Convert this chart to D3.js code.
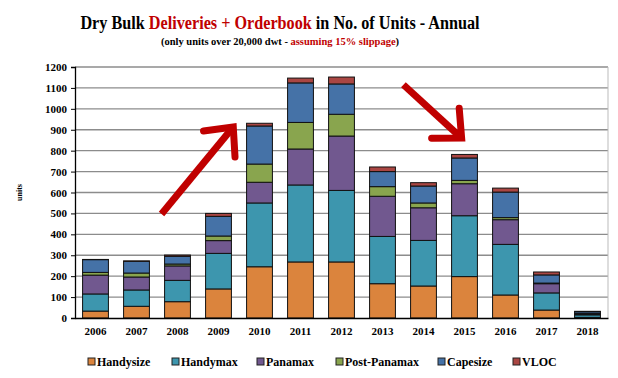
<!DOCTYPE html>
<html>
<head>
<meta charset="utf-8">
<script src="https://cdn.jsdelivr.net/npm/d3@7"></script>
<style>
  body { margin: 0; background: #fff; }
  text { font-family: "Liberation Serif", "Times New Roman", serif; font-weight: bold; }
</style>
</head>
<body>
<div id="chart"></div>
<script>
const width = 618;
const height = 378;
const margin = { top: 67, right: 10, bottom: 60, left: 75 };

const years = ["2006", "2007", "2008", "2009", "2010", "2011", "2012", "2013", "2014", "2015", "2016", "2017", "2018"];
const seriesNames = ["Handysize", "Handymax", "Panamax", "Post-Panamax", "Capesize", "VLOC"];
const seriesColors = ["#DB843D", "#3D96AE", "#71588F", "#89A54E", "#4572A7", "#AA4643"];

const handysize = [33, 56, 78, 139, 245, 268, 268, 164, 153, 198, 110, 38, 3];
const handymax = [82, 78, 102, 170, 305, 368, 342, 226, 218, 291, 242, 82, 12];
const panamax = [90, 62, 69, 61, 99, 172, 260, 192, 156, 153, 118, 44, 5];
const postPanamax = [13, 19, 9, 22, 87, 127, 104, 46, 23, 16, 10, 3, 2];
const capesize = [61, 56, 37, 94, 182, 189, 145, 72, 81, 107, 122, 39, 8];
const vloc = [1, 2, 6, 14, 13, 23, 33, 22, 16, 17, 19, 14, 2];

const yTicks = d3.range(0, 1201, 100);

// arrows as [index position, value] pairs
const arrowUp = [[1.61, 497], [3.36, 913]];
const arrowDown = [[7.51, 1115], [8.93, 860]];

const rows = years.map((y, i) => ({
    year: y,
    Handysize: handysize[i],
    Handymax: handymax[i],
    Panamax: panamax[i],
    "Post-Panamax": postPanamax[i],
    Capesize: capesize[i],
    VLOC: vloc[i],
}));

const svg = d3.select("#chart").append("svg")
    .attr("width", width)
    .attr("height", height);

const x = d3.scaleBand()
    .domain(years)
    .range([margin.left, width - margin.right])
    .paddingInner(0.37)
    .paddingOuter(0.185);

const y = d3.scaleLinear()
    .domain([0, 1200])
    .range([height - margin.bottom, margin.top]);

const color = d3.scaleOrdinal().domain(seriesNames).range(seriesColors);

// title (slightly condensed, like the original)
const title = svg.append("text")
    .attr("transform", "translate(280,29) scale(0.853,1)")
    .attr("text-anchor", "middle")
    .style("font-size", "19px");
title.append("tspan").text("Dry Bulk ");
title.append("tspan").attr("fill", "#C00000").text("Deliveries + Orderbook");
title.append("tspan").text(" in No. of Units - Annual");

const sub = svg.append("text")
    .attr("x", 280)
    .attr("y", 45)
    .attr("text-anchor", "middle")
    .style("font-size", "10.5px");
sub.append("tspan").text("(only units over 20,000 dwt -  ");
sub.append("tspan").attr("fill", "#C00000").text("assuming 15% slippage");
sub.append("tspan").text(")");

// gridlines
svg.append("g")
    .selectAll("line")
    .data(yTicks.filter((d) => d > 0))
    .join("line")
    .attr("x1", margin.left)
    .attr("x2", width - margin.right)
    .attr("y1", (d) => y(d))
    .attr("y2", (d) => y(d))
    .attr("stroke", "#8c8c8c")
    .attr("stroke-width", 1.3);

// right frame
svg.append("line")
    .attr("x1", width - margin.right)
    .attr("x2", width - margin.right)
    .attr("y1", y(1200))
    .attr("y2", y(0))
    .attr("stroke", "#bbbbbb")
    .attr("stroke-width", 1);

// bars
const stacked = d3.stack().keys(seriesNames)(rows);

svg.append("g")
    .selectAll("g")
    .data(stacked)
    .join("g")
    .attr("fill", (d) => color(d.key))
    .selectAll("rect")
    .data((d) => d)
    .join("rect")
    .attr("x", (d) => x(d.data.year))
    .attr("y", (d) => y(d[1]))
    .attr("width", x.bandwidth())
    .attr("height", (d) => y(d[0]) - y(d[1]))
    .attr("stroke", "#111")
    .attr("stroke-width", 1);

// y axis
const yAxis = svg.append("g")
    .attr("transform", `translate(${margin.left},0)`)
    .call(d3.axisLeft(y).tickValues(yTicks).tickFormat(d3.format("d")).tickSize(4).tickPadding(4));
yAxis.select(".domain").attr("stroke", "#000").attr("stroke-width", 1.3);
yAxis.selectAll(".tick line").attr("stroke", "#000");
yAxis.selectAll("text").style("font-size", "11px").attr("fill", "#000");

// x axis
const xAxis = svg.append("g")
    .attr("transform", `translate(0,${y(0)})`)
    .call(d3.axisBottom(x).tickSize(0).tickPadding(9));
xAxis.select(".domain").attr("stroke", "#000").attr("stroke-width", 1.3);
xAxis.selectAll("text").style("font-size", "11px").attr("fill", "#000");

// y axis title
svg.append("text")
    .attr("transform", `translate(22,${y(600)}) rotate(-90)`)
    .attr("text-anchor", "middle")
    .style("font-size", "8px")
    .text("units");

// arrows
const xi = d3.scaleLinear()
    .domain([0, years.length - 1])
    .range([x(years[0]) + x.bandwidth() / 2, x(years[years.length - 1]) + x.bandwidth() / 2]);

function drawArrow(pts) {
    const [x0, y0] = [xi(pts[0][0]), y(pts[0][1])];
    const [x1, y1] = [xi(pts[1][0]), y(pts[1][1])];
    const ang = Math.atan2(y1 - y0, x1 - x0);
    const len = 30;
    const spread = Math.PI / 4.2;
    const w1 = [x1 - len * Math.cos(ang - spread), y1 - len * Math.sin(ang - spread)];
    const w2 = [x1 - len * Math.cos(ang + spread), y1 - len * Math.sin(ang + spread)];
    const g = svg.append("g")
        .attr("fill", "none")
        .attr("stroke", "#C00000")
        .attr("stroke-width", 7);
    g.append("line")
        .attr("x1", x0).attr("y1", y0)
        .attr("x2", x1 - 3 * Math.cos(ang)).attr("y2", y1 - 3 * Math.sin(ang));
    g.append("path")
        .attr("d", `M${w1[0]},${w1[1]}L${x1},${y1}L${w2[0]},${w2[1]}`)
        .attr("stroke-linejoin", "miter")
        .attr("stroke-linecap", "round");
}
drawArrow(arrowUp);
drawArrow(arrowDown);

// legend
const legendX = [88, 172, 257, 336, 438, 513];
const legend = svg.append("g")
    .selectAll("g")
    .data(seriesNames)
    .join("g")
    .attr("transform", (d, i) => `translate(${legendX[i]},362)`);
legend.append("rect")
    .attr("x", 0)
    .attr("y", -4)
    .attr("width", 7)
    .attr("height", 7)
    .attr("fill", (d) => color(d))
    .attr("stroke", "#222")
    .attr("stroke-width", 1);
legend.append("text")
    .attr("x", 9)
    .attr("y", 4)
    .style("font-size", "12px")
    .text((d) => d);
</script>
</body>
</html>
